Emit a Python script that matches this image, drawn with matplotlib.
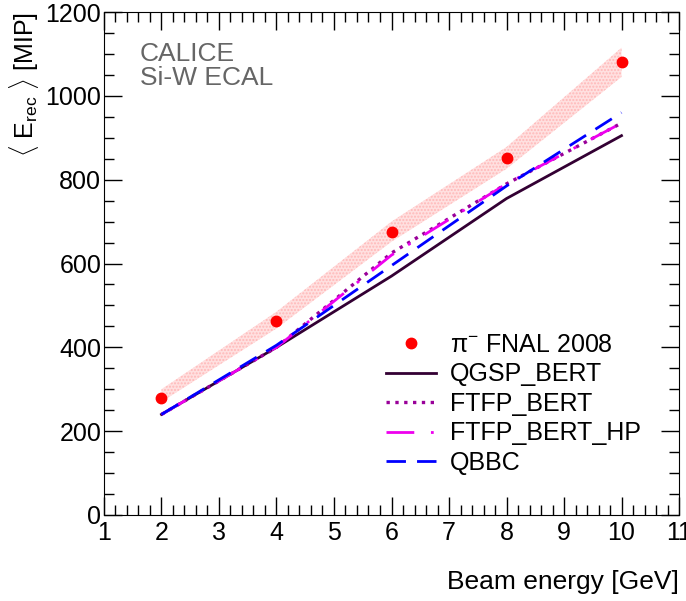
import numpy as np
import matplotlib
matplotlib.use('Agg')
import matplotlib.pyplot as plt
from matplotlib.ticker import MultipleLocator

plt.rcParams['font.family'] = ['Liberation Sans', 'DejaVu Sans']
plt.rcParams['mathtext.fontset'] = 'custom'
plt.rcParams['mathtext.rm'] = 'Liberation Sans'
plt.rcParams['mathtext.it'] = 'Liberation Sans:italic'

# ── data ──
energy = [2, 4, 6, 8, 10]
data_mip = [280, 462, 675, 852, 1080]
band_lo = [270, 445, 652, 826, 1045]
band_hi = [300, 485, 700, 878, 1115]

qgsp_bert = [240, 400, 570, 755, 905]
ftfp_bert = [240, 400, 625, 790, 935]
ftfp_bert_hp = [240, 400, 620, 790, 935]
qbbc = [240, 405, 595, 785, 960]

fig = plt.figure(figsize=(6.86, 6.01), dpi=100)
ax = fig.add_axes([0.1516, 0.1431, 0.8382, 0.8369])

ax.fill_between(energy, band_lo, band_hi, facecolor='#ffe0e0', edgecolor='#ffb8b8',
                hatch='.....', linewidth=0, zorder=1)
ax.plot(energy, qgsp_bert, '-', color='#330033', lw=2, label='QGSP_BERT', zorder=3)
ax.plot(energy, ftfp_bert, ':', color='#990099', lw=2.4, label='FTFP_BERT', zorder=3)
ax.plot(energy, ftfp_bert_hp, color='#ee00ee', lw=2, dashes=(10, 6, 1, 6),
        label='FTFP_BERT_HP', zorder=3)
ax.plot(energy, qbbc, '--', color='#0000ff', lw=2, dashes=(7, 4), label='QBBC', zorder=3)
ax.plot(energy, data_mip, 'o', color='red', ms=7.5, label='π$^{-}$ FNAL 2008', zorder=4)

ax.set_xlim(1, 11)
ax.set_ylim(0, 1200)
ax.xaxis.set_major_locator(MultipleLocator(1))
ax.xaxis.set_minor_locator(MultipleLocator(0.2))
ax.yaxis.set_major_locator(MultipleLocator(200))
ax.yaxis.set_minor_locator(MultipleLocator(50))
ax.tick_params(which='both', direction='in', top=True, right=True, labelsize=18, width=1)
ax.tick_params(which='major', length=13)
ax.tick_params(which='minor', length=7)
ax.tick_params(axis='x', pad=4)
ax.tick_params(axis='y', pad=2)

ax.set_xlabel('Beam energy [GeV]', fontsize=19, loc='right', labelpad=18)
ax.set_ylabel(r'$\langle$ E$_{\rm rec}$ $\rangle$ [MIP]', fontsize=18, loc='top', labelpad=3)

ax.text(0.062, 0.94, 'CALICE\nSi-W ECAL', transform=ax.transAxes, fontsize=19,
        color='#666666', va='top', ha='left', linespacing=1.0)

h, l = ax.get_legend_handles_labels()
order = [4, 0, 1, 2, 3]
ax.legend([h[i] for i in order], [l[i] for i in order], loc='lower left',
          bbox_to_anchor=(0.473, 0.06), frameon=False, fontsize=18,
          handlelength=2.0, handletextpad=0.55, labelspacing=0.22, borderaxespad=0)

fig.savefig('out.png', dpi=100)
